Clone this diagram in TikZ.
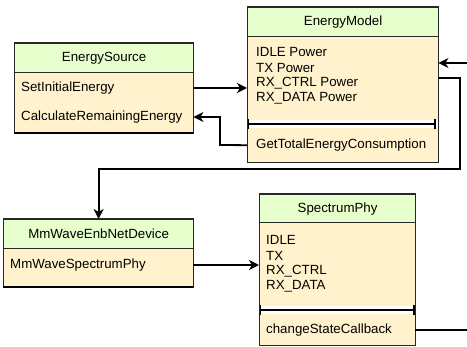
\documentclass[tikz,border=0pt]{standalone}
\usepackage{fontspec}
\setmainfont{Liberation Sans}
\usetikzlibrary{arrows.meta,calc}
\definecolor{HeaderGreen}{RGB}{230,255,204}
\definecolor{MemberYellow}{RGB}{255,242,204}
\definecolor{EdgeDark}{RGB}{40,40,40}
\tikzset{
  classhead/.style={draw=EdgeDark,line width=1.2pt,fill=HeaderGreen,anchor=north west,inner sep=0pt,font=\fontsize{13.3}{15}\selectfont},
  classbody/.style={fill=MemberYellow,anchor=north west,inner sep=0pt},
  member/.style={anchor=west,inner sep=0pt,font=\fontsize{13.3}{15}\selectfont},
  classframe/.style={draw=EdgeDark,line width=1pt},
  divider/.style={line width=1.6pt,draw=black,|-|},
  conn/.style={line width=1.8pt,black,->}
}

\begin{document}
\begin{tikzpicture}[x=1pt,y=-1pt,>={Stealth[length=10pt,width=10pt,inset=3pt]}]
  \useasboundingbox (0,0) rectangle (467,347);
  \clip (0,0) rectangle (467,347);

  % EnergySource
  \node[classbody,minimum width=179pt,minimum height=61pt] (srcBody) at (14,72) {};
  \node[classhead,minimum width=179pt,minimum height=29pt] (srcHead) at (14,43) {EnergySource};
  \node[member] (srcSet) at (21,88) {SetInitialEnergy};
  \node[member] (srcCalc) at (21,117) {CalculateRemainingEnergy};
  \draw[classframe] (srcHead.north west) rectangle (srcBody.south east);
  \draw[line width=2pt] (srcBody.south west) -- (srcBody.south east);

  % EnergyModel
  \node[classbody,minimum width=191pt,minimum height=84pt] (emBody) at (247,36) {};
  \node[classbody,minimum width=191pt,minimum height=34pt] (emLow) at (247,128) {};
  \node[classhead,minimum width=191pt,minimum height=29pt] (emHead) at (247,7) {EnergyModel};
  \foreach \txt [count=\i] in {IDLE Power,TX Power,RX\_CTRL Power,RX\_DATA Power}
    \node[member] (em\i) at (256,{36.5+15.5*\i}) {\txt};
  \node[member] (emTotal) at (256,145) {GetTotalEnergyConsumption};
  \coordinate (emDivL) at (247,124);
  \coordinate (emDivR) at (436,124);
  \draw[divider] (emDivL) -- (emDivR);
  \draw[classframe] (emHead.north west) rectangle (emLow.south east);

  % MmWaveEnbNetDevice
  \node[classbody,minimum width=190pt,minimum height=39pt] (devBody) at (3,248) {};
  \node[classhead,minimum width=190pt,minimum height=29pt] (devHead) at (3,219) {MmWaveEnbNetDevice};
  \node[member] (devPhy) at (10,265) {MmWaveSpectrumPhy};
  \draw[classframe] (devHead.north west) rectangle (devBody.south east);
  \draw[line width=2pt] (devBody.south west) -- (devBody.south east);

  % SpectrumPhy
  \node[classbody,minimum width=156pt,minimum height=84pt] (phyBody) at (259,222) {};
  \node[classbody,minimum width=156pt,minimum height=31pt] (phyLow) at (259,314) {};
  \node[classhead,minimum width=156pt,minimum height=28pt] (phyHead) at (259,194) {SpectrumPhy};
  \foreach \txt [count=\i] in {IDLE,TX,RX\_CTRL,RX\_DATA}
    \node[member] (phy\i) at (266,{224.5+15.5*\i}) {\txt};
  \node[member] (phyCb) at (266,330) {changeStateCallback};
  \coordinate (phyDivL) at (259,310);
  \coordinate (phyDivR) at (415,310);
  \draw[divider] (phyDivL) -- (phyDivR);
  \draw[classframe] (phyHead.north west) rectangle (phyLow.south east);

  % connectors
  \coordinate (turnA) at (220,145);
  \coordinate (turnB) at (460,169);
  \coordinate (edgeR) at (472,63);
  \draw[conn] (srcBody.east |- srcSet) -- (emBody.west |- srcSet);
  \draw[conn] (emLow.west) -- (turnA) |- (srcBody.east |- srcCalc);
  \draw[conn] (emBody.east) -| (turnB) -| (devHead.north);
  \draw[conn] (devBody.east |- devPhy) -- (phyBody.west |- devPhy);
  \draw[conn] (phyLow.east) -| (edgeR) -- (emBody.east |- edgeR);
\end{tikzpicture}
\end{document}
